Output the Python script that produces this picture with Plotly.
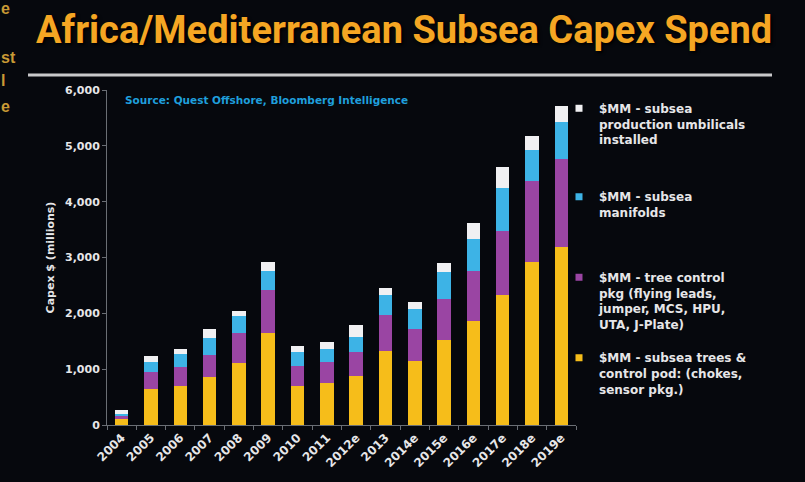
import plotly.graph_objects as go

# ---- data ----
years = ['2004', '2005', '2006', '2007', '2008', '2009', '2010', '2011', '2012e',
         '2013', '2014e', '2015e', '2016e', '2017e', '2018e', '2019e']
trees = [110, 646, 690, 855, 1115, 1650, 705, 760, 880, 1325, 1145, 1530, 1855, 2330, 2925, 3190]
control = [55, 310, 350, 400, 540, 775, 355, 360, 420, 640, 570, 730, 910, 1145, 1440, 1580]
manifolds = [25, 178, 225, 295, 300, 340, 250, 240, 280, 370, 355, 475, 565, 770, 565, 655]
umbilicals = [75, 100, 95, 165, 90, 155, 100, 130, 220, 125, 140, 160, 280, 375, 250, 280]

names = [
    '$MM - subsea trees &<br>control pod: (chokes,<br>sensor pkg.)',
    '$MM - tree control<br>pkg (flying leads,<br>jumper, MCS, HPU,<br>UTA, J-Plate)',
    '$MM - subsea<br>manifolds',
    '$MM - subsea<br>production umbilicals<br>installed',
]
series = [trees, control, manifolds, umbilicals]
colors = ['#f6bd1a', '#9a45a3', '#3db3e6', '#f0f0f2']

W, H = 805, 482
L, R, T, B = 107, 576, 90, 427
BG = '#06080d'
FONT = 'DejaVu Sans'


def px(xp):
    return (xp - L) / (R - L)


def py(yp):
    return (B - yp) / (B - T)


fig = go.Figure()
for vals, col in zip(series, colors):
    fig.add_trace(go.Bar(x=years, y=vals, marker=dict(color=col, line=dict(width=0)),
                         showlegend=False))

# legend keys (one legend per entry, positioned like the reference)
legend_ids = ['legend4', 'legend3', 'legend2', 'legend']
legend_tops = [345, 264, 183, 94]
for nm, col, lid in zip(names, colors, legend_ids):
    fig.add_trace(go.Scatter(x=[None], y=[None], mode='markers', name=nm,
                             marker=dict(symbol='square', size=7, color=col),
                             legend=lid, showlegend=True))

legend_common = dict(xanchor='left', yanchor='top', bgcolor='rgba(0,0,0,0)',
                     borderwidth=0, valign='top', itemwidth=30,
                     font=dict(family=FONT, size=12, color='#e6e6e8', weight='bold'))
layout_legends = {}
for lid, top in zip(legend_ids, legend_tops):
    layout_legends[lid] = dict(x=px(559), y=py(top), **legend_common)

fig.update_layout(
    width=W, height=H,
    margin=dict(l=L, r=W - R, t=T, b=H - B),
    paper_bgcolor=BG, plot_bgcolor=BG,
    barmode='stack', bargap=0.54,
    **layout_legends,
    xaxis=dict(type='category', tickangle=-45, tickson='boundaries',
               ticks='outside', ticklen=4, tickcolor='#6a6e74',
               showline=True, linecolor='#6a6e74', linewidth=1,
               showgrid=False, zeroline=False,
               tickfont=dict(family=FONT, size=12, color='#e6e6e8', weight='bold')),
    yaxis=dict(range=[0, 6000], tickvals=[0, 1000, 2000, 3000, 4000, 5000, 6000],
               tickformat=',d', ticks='outside', ticklen=4, tickcolor='#6a6e74',
               showline=True, linecolor='#6a6e74', linewidth=1,
               showgrid=False, zeroline=False,
               tickfont=dict(family=FONT, size=11, color='#e6e6e8', weight='bold'),
               title=dict(text='Capex $ (millions)', standoff=8,
                          font=dict(family=FONT, size=11, color='#e6e6e8', weight='bold'))),
)

# title
fig.add_annotation(text='Africa/Mediterranean Subsea Capex Spend', xref='paper', yref='paper',
                   x=px(404), y=py(30), xanchor='center', yanchor='middle', showarrow=False,
                   font=dict(family='Roboto', size=38, color='#f5a623',
                             weight='bold', shadow='2px 2px 3px #000'))
# separator line
fig.add_shape(type='line', xref='paper', yref='paper', x0=px(28), x1=px(772),
              y0=py(75), y1=py(75), line=dict(color='#c9c9cb', width=3))
# source
fig.add_annotation(text='Source: Quest Offshore, Bloomberg Intelligence', xref='paper', yref='paper',
                   x=px(123), y=py(100), xanchor='left', yanchor='middle', showarrow=False,
                   font=dict(family=FONT, size=10.5, color='#1f9fdc', weight='bold'))
# fragments of text cut off at the left edge of the slide
for txt, yy in [('e', 8), ('st', 57), ('l', 80), ('e', 107)]:
    fig.add_annotation(text=txt, xref='paper', yref='paper', x=px(-1), y=py(yy),
                       xanchor='left', yanchor='middle', showarrow=False,
                       font=dict(family='Liberation Sans', size=16, color='#c99a35', weight='bold'))

fig.write_html('out.html', config={'displayModeBar': False},
               post_script="document.body.style.margin='0';document.body.style.background='#06080d';")
